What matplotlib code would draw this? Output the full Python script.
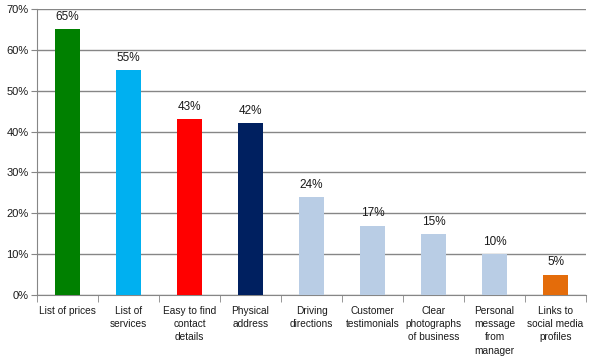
import numpy as np
import matplotlib
matplotlib.use("Agg")
import matplotlib.pyplot as plt
from matplotlib.ticker import FixedLocator

categories = ["List of prices", "List of\nservices", "Easy to find\ncontact\ndetails",
              "Physical\naddress", "Driving\ndirections", "Customer\ntestimonials",
              "Clear\nphotographs\nof business", "Personal\nmessage\nfrom\nmanager",
              "Links to\nsocial media\nprofiles"]
values = [65, 55, 43, 42, 24, 17, 15, 10, 5]
colors = ["#008000", "#00B0F0", "#FF0000", "#002060", "#B9CDE5", "#B9CDE5",
          "#B9CDE5", "#B9CDE5", "#E46C0A"]
y_ticks = [0, 10, 20, 30, 40, 50, 60, 70]

plt.rcParams['font.family'] = ['Liberation Sans', 'DejaVu Sans']

fig = plt.figure(figsize=(5.91, 3.61), dpi=100)
ax = fig.add_axes([0.0626, 0.183, 0.929, 0.792])

x = np.arange(len(categories))
ax.bar(x, values, width=0.4, color=colors, zorder=3)

for xi, v in zip(x, values):
    ax.text(xi, v + 1.5, f"{v}%", ha="center", va="bottom", fontsize=8.5, color="#1a1a1a")

ax.set_xlim(-0.5, len(categories) - 0.5)
ax.set_ylim(0, 70)
ax.set_yticks(y_ticks)
ax.set_yticklabels([f"{t}%" for t in y_ticks], fontsize=8, color="#1a1a1a")
ax.yaxis.grid(True, color="#868686", linewidth=1, zorder=0)

ax.set_xticks(x)
ax.set_xticklabels(categories, fontsize=7.3, linespacing=1.4, va="top", color="#1a1a1a")
ax.tick_params(axis="x", which="major", length=0, pad=8)
ax.xaxis.set_minor_locator(FixedLocator(np.arange(-0.5, len(categories), 1.0)))
ax.tick_params(axis="x", which="minor", length=5, color="#868686", direction="out")
ax.tick_params(axis="y", length=4, color="#868686", pad=2)

for s in ["top", "right"]:
    ax.spines[s].set_visible(False)
ax.spines["left"].set_color("#868686")
ax.spines["bottom"].set_color("#868686")

fig.savefig("out.png", dpi=100)
